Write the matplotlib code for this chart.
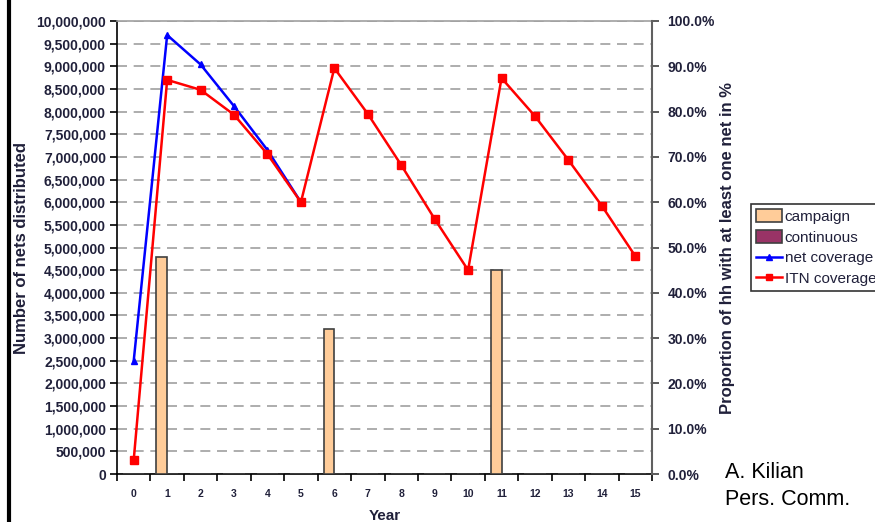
import numpy as np
import matplotlib
matplotlib.use("Agg")
import matplotlib.pyplot as plt
from matplotlib.lines import Line2D
from matplotlib.patches import Patch

plt.rcParams['font.family'] = ['Liberation Sans', 'DejaVu Sans']

years = list(range(16))
campaign = [0, 4800000, 0, 0, 0, 0, 3200000, 0, 0, 0, 0, 4500000, 0, 0, 0, 0]
continuous = [0] * 16
net_coverage = [25.0, 96.9, 90.4, 81.2, 71.5, 60.0] + [np.nan] * 10
itn_coverage = [3.1, 87.0, 84.8, 79.3, 70.6, 60.0, 89.6, 79.5, 68.2, 56.3,
                45.0, 87.4, 79.0, 69.3, 59.2, 48.1]

txt = '#20203a'

fig = plt.figure(figsize=(8.75, 5.22), dpi=100)
ax = fig.add_axes([117/875, 48/522, 535/875, 453/522])

x = np.arange(len(years))
w = 0.32
ax.bar(x - w/2, campaign, w, color='#FFCC99', edgecolor='#404040', linewidth=1.2, zorder=3)
ax.bar(x + w/2, continuous, w, color='#993366', edgecolor='#404040', linewidth=1.2, zorder=3)

ax.set_xlim(-0.5, 15.5)
ax.set_ylim(0, 10000000)
ax.set_yticks(np.arange(0, 10000001, 500000))
ax.set_yticklabels(['{:,}'.format(v) for v in range(0, 10000001, 500000)],
                   fontsize=10, fontweight='bold', color=txt)
ax.set_xticks(x)
ax.set_xticklabels([str(y) for y in years], fontsize=7.5, fontweight='bold', color=txt)
ax.set_xticks(np.arange(-0.5, 16, 1), minor=True)
ax.tick_params(axis='x', which='major', length=0, pad=11)
ax.tick_params(axis='x', which='minor', length=5, width=1.2, color='black')
ax.tick_params(axis='y', length=5, width=1.2, color='black', pad=3)
ax.grid(axis='y', color='#a0a0a0', linestyle=(0, (6, 4)), linewidth=1.2, zorder=0)
ax.set_axisbelow(True)
for s in ['left', 'bottom']:
    ax.spines[s].set_color('black')
    ax.spines[s].set_linewidth(1.2)
ax.spines['top'].set_color('#a0a0a0')
ax.spines['top'].set_linewidth(1.2)
ax.spines['right'].set_visible(False)
ax.set_xlabel('Year', fontsize=11, fontweight='bold', color=txt, labelpad=7)
ax.set_ylabel('Number of nets distributed', fontsize=12, fontweight='bold', color=txt, labelpad=5)

ax2 = ax.twinx()
ax2.plot(x, net_coverage, color='#0000FF', linewidth=1.8, marker='^', markersize=5, zorder=4)
ax2.plot(x, itn_coverage, color='#FF0000', linewidth=1.8, marker='s', markersize=6, zorder=5)
ax2.set_ylim(0, 100)
ax2.set_yticks(np.arange(0, 101, 10))
ax2.set_yticklabels(['{:.1f}%'.format(v) for v in range(0, 101, 10)],
                    fontsize=10, fontweight='bold', color=txt)
ax2.tick_params(axis='y', length=5, width=1.2, color='#404040', pad=6)
ax2.spines['right'].set_color('#606060')
ax2.spines['right'].set_linewidth(1.5)
for s in ['left', 'top', 'bottom']:
    ax2.spines[s].set_visible(False)
ax2.set_ylabel('Proportion of hh with at least one net in %', fontsize=12,
               fontweight='bold', color=txt, labelpad=4)

handles = [Patch(facecolor='#FFCC99', edgecolor='#404040', linewidth=1.2),
           Patch(facecolor='#993366', edgecolor='#404040', linewidth=1.2),
           Line2D([], [], color='#0000FF', linewidth=1.8, marker='^', markersize=4),
           Line2D([], [], color='#FF0000', linewidth=1.8, marker='s', markersize=4)]
labels = ['campaign', 'continuous', 'net coverage', 'ITN coverage']
leg = fig.legend(handles, labels, loc='upper left', bbox_to_anchor=(751/875, 1 - 204/522),
                 fontsize=11, frameon=True, fancybox=False, edgecolor='black',
                 handlelength=1.7, handleheight=0.9, handletextpad=0.15,
                 labelspacing=0.4, borderpad=0.35, borderaxespad=0)
leg.get_frame().set_linewidth(1.2)
for t in leg.get_texts():
    t.set_color(txt)

fig.text(725/875, 1 - 486/522, 'A. Kilian\nPers. Comm.', fontsize=15.5, color='black',
         va='center', ha='left', linespacing=1.35)

fig.add_artist(Line2D([8.5/875, 8.5/875], [0, 1], color='black', linewidth=3,
                      transform=fig.transFigure))

fig.savefig('out.png', dpi=100)
